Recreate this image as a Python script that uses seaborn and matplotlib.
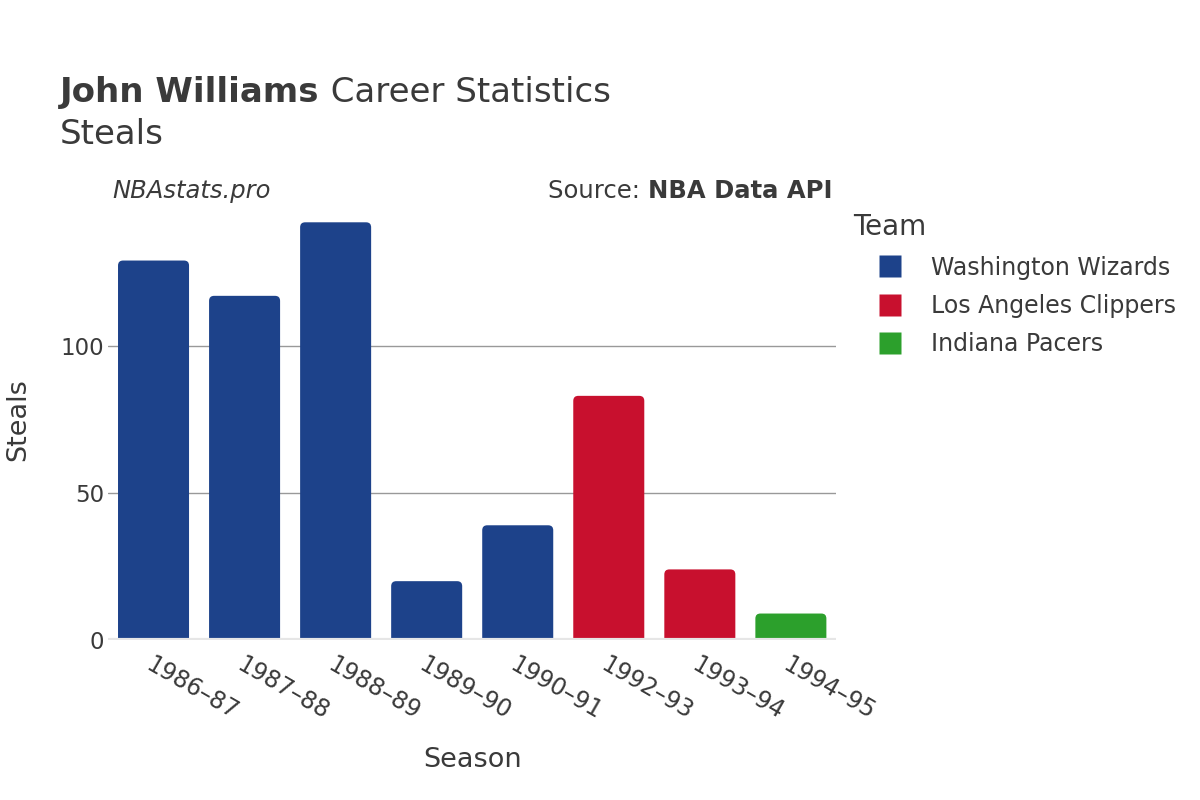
import matplotlib
matplotlib.use('Agg')
import matplotlib.pyplot as plt
from matplotlib.patches import FancyBboxPatch
from matplotlib.lines import Line2D
import seaborn as sns
import pandas as pd

# data
seasons = ['1986-87', '1987-88', '1988-89', '1989-90', '1990-91',
           '1992-93', '1993-94', '1994-95']
teams = ['Washington Wizards', 'Washington Wizards', 'Washington Wizards',
         'Washington Wizards', 'Washington Wizards', 'Los Angeles Clippers',
         'Los Angeles Clippers', 'Indiana Pacers']
steals = [129, 117, 142, 20, 39, 83, 24, 9]

team_order = ['Washington Wizards', 'Los Angeles Clippers', 'Indiana Pacers']
team_colors = {'Washington Wizards': '#1D428A',
               'Los Angeles Clippers': '#C8102E',
               'Indiana Pacers': '#2CA02C'}

TEXT = '#3a3a3a'

df = pd.DataFrame({'Season': seasons, 'Team': teams, 'Steals': steals})

sns.set_style('white')
plt.rcParams['font.family'] = ['DejaVu Sans']

fig = plt.figure(figsize=(12, 8), dpi=100)
ax = fig.add_axes([0.09, 0.2, 0.607, 0.535])

sns.barplot(data=df, x='Season', y='Steals', hue='Team', order=seasons,
            hue_order=team_order, palette=team_colors, dodge=False,
            saturation=1, width=0.78, ax=ax, legend=False, zorder=3)

# swap plain rectangles for rounded ones (top corners visible)
for p in list(ax.patches):
    x, y, w, h = p.get_x(), p.get_y(), p.get_width(), p.get_height()
    if h <= 0 or w <= 0:
        p.remove()
        continue
    fc = p.get_facecolor()
    p.remove()
    rb = FancyBboxPatch((x, y - 3), w, h + 3,
                        boxstyle='round,pad=0,rounding_size=0.055',
                        mutation_aspect=31, facecolor=fc, edgecolor='none',
                        zorder=3)
    ax.add_patch(rb)

ax.set_ylim(0, 145.5)
ax.set_xlim(-0.5, len(seasons) - 0.5)
ax.set_yticks([0, 50, 100])
ax.yaxis.grid(True, color='#999999', linewidth=1)
ax.set_axisbelow(True)
for s in ax.spines.values():
    s.set_visible(False)
ax.axhline(0, color='#e6e6e6', linewidth=3, zorder=4)

ax.set_xticks(range(len(seasons)))
ax.set_xticklabels([s.replace('-', '–') for s in seasons], rotation=-30,
                   ha='left', va='top', rotation_mode='anchor',
                   fontsize=17, color=TEXT)
ax.tick_params(axis='x', length=0, pad=9)
ax.tick_params(axis='y', length=0, pad=3, labelsize=16.5, labelcolor=TEXT)
ax.set_xlabel('Season', fontsize=19.5, color=TEXT, labelpad=16)
ax.set_ylabel('Steals', fontsize=19.5, color=TEXT)
ax.yaxis.set_label_coords(-0.106, 0.514)

renderer = fig.canvas.get_renderer()


def text_row(x, y, parts, ha='left'):
    # place consecutive text pieces on one baseline
    objs = [fig.text(x, y, s, va='baseline', color=TEXT, **kw) for s, kw in parts]
    widths = [o.get_window_extent(renderer).width / fig.bbox.width for o in objs]
    start = x if ha == 'left' else x - sum(widths)
    for o, w in zip(objs, widths):
        o.set_x(start)
        start += w


text_row(0.05, 0.873, [('John Williams', dict(fontsize=24.5, fontweight='bold')),
                       (' Career Statistics', dict(fontsize=24.5))])
fig.text(0.05, 0.82, 'Steals', fontsize=24.5, color=TEXT, va='baseline')

fig.text(0.094, 0.752, 'NBAstats.pro', fontsize=17.5, style='italic',
         color=TEXT, va='baseline')
text_row(0.6935, 0.752, [('Source: ', dict(fontsize=17.5)),
                         ('NBA Data API', dict(fontsize=17.5, fontweight='bold'))],
         ha='right')

handles = [Line2D([0], [0], marker='s', linestyle='none', markersize=16,
                  markerfacecolor=team_colors[t], markeredgecolor='none')
           for t in team_order]
leg = fig.legend(handles, team_order, title='Team', loc='upper left',
                 bbox_to_anchor=(0.703, 0.745), frameon=False, fontsize=17,
                 title_fontsize=20, labelspacing=0.6, handlelength=3.1,
                 handletextpad=0.2, borderaxespad=0)
for t in leg.get_texts():
    t.set_color(TEXT)
leg.get_title().set_color(TEXT)
leg._legend_box.align = 'left'

fig.savefig('out.png', dpi=100)
